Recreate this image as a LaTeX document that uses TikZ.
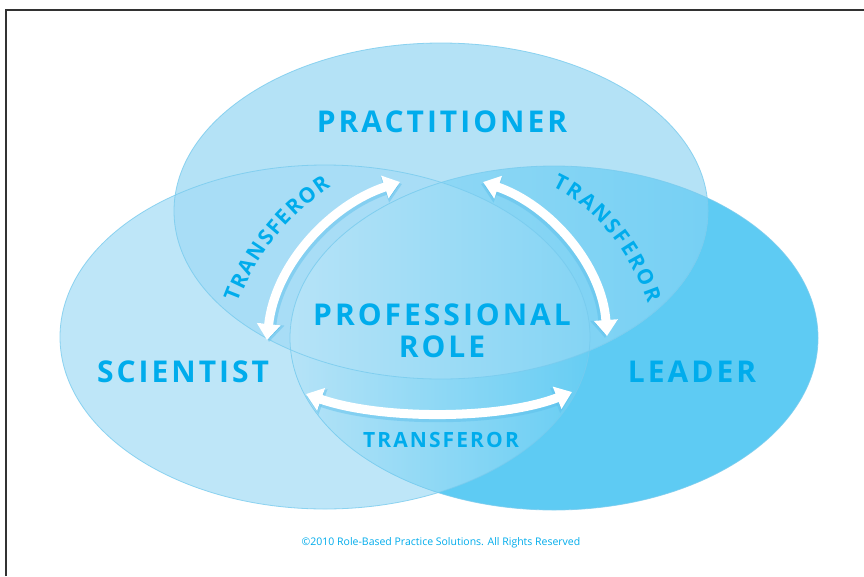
\documentclass[tikz,border=0pt]{standalone}
\usepackage{fontspec}
\setmainfont{Open Sans}[BoldFeatures={LetterSpace=10}]
\usetikzlibrary{arrows.meta,decorations.text}
\definecolor{tblue}{RGB}{0,172,236}
\definecolor{cL}{RGB}{190,230,248}
\definecolor{cT}{RGB}{180,226,246}
\definecolor{cR}{RGB}{94,203,243}
\definecolor{cLT}{RGB}{168,221,246}
\definecolor{cTRa}{RGB}{155,219,245}
\definecolor{cTRb}{RGB}{118,208,244}
\definecolor{cLRa}{RGB}{182,227,247}
\definecolor{cLRb}{RGB}{102,205,243}
\definecolor{cCa}{RGB}{182,227,247}
\definecolor{cCb}{RGB}{132,212,244}
\definecolor{eline}{RGB}{120,203,238}
\definecolor{ashade}{RGB}{90,190,235}
\definecolor{framec}{RGB}{50,50,50}
\begin{document}
\begin{tikzpicture}[x=1pt,y=-1pt,
  setshape/.style={draw=eline, line width=0.8pt, draw opacity=0.8},
  lbl/.style={text=tblue, font=\fontsize{30}{32}\selectfont\bfseries, inner sep=0pt},
  tlbl/.style={text=tblue, font=\fontsize{21}{21}\selectfont\bfseries, inner sep=0pt},
  arrowshade/.style={draw=ashade, draw opacity=0.45, line width=11pt,
    {Triangle[width=26pt,length=18pt]}-{Triangle[width=26pt,length=18pt]}},
  arrowbody/.style={draw=white, line width=9pt,
    {Triangle[width=23pt,length=16pt]}-{Triangle[width=23pt,length=16pt]}},
  curvetext/.style={decorate, decoration={text along path, text align=fit to path,
    text={|\fontsize{21}{21}\selectfont\bfseries\color{tblue}|TRANSFEROR}}}
]
\useasboundingbox (0,0) rectangle (864,576);
\fill[white] (0,0) rectangle (864,576);
% frame
\draw[framec, line width=1.5pt] (6,576) -- (6,10) -- (864,10);
% single sets
\fill[cL] (325,337) ellipse [x radius=265, y radius=172];
\fill[cR] (554,338) ellipse [x radius=264, y radius=172];
\fill[cT] (441,211) ellipse [x radius=267, y radius=168];
% top & left
\begin{scope}
\clip (441,211) ellipse [x radius=267, y radius=168];
\fill[cLT] (325,337) ellipse [x radius=265, y radius=172];
\end{scope}
% top & right
\begin{scope}
\clip (441,211) ellipse [x radius=267, y radius=168];
\clip (554,338) ellipse [x radius=264, y radius=172];
\shade[left color=cTRa, right color=cTRb] (280,150) rectangle (712,400);
\end{scope}
% left & right
\begin{scope}
\clip (325,337) ellipse [x radius=265, y radius=172];
\clip (554,338) ellipse [x radius=264, y radius=172];
\shade[left color=cLRa, right color=cLRb] (288,150) rectangle (592,520);
\end{scope}
% all three
\begin{scope}
\clip (441,211) ellipse [x radius=267, y radius=168];
\clip (325,337) ellipse [x radius=265, y radius=172];
\clip (554,338) ellipse [x radius=264, y radius=172];
\shade[left color=cCa, right color=cCb] (288,160) rectangle (592,390);
\end{scope}
% outlines
\draw[setshape] (325,337) ellipse [x radius=265, y radius=172];
\draw[setshape] (441,211) ellipse [x radius=267, y radius=168];
\draw[setshape] (554,338) ellipse [x radius=264, y radius=172];
% arrow end points
\coordinate (la) at (267,340);
\coordinate (lb) at (400,182);
\coordinate (ra) at (483,182);
\coordinate (rb) at (607,336);
\coordinate (ba) at (306,394);
\coordinate (bb) at (572,392);
% arrows
\draw[arrowshade] ([xshift=2pt,yshift=-2pt]la) .. controls ([xshift=2pt,yshift=-2pt]275,265) and ([xshift=2pt,yshift=-2pt]330,205) .. ([xshift=2pt,yshift=-2pt]lb);
\draw[arrowbody] (la) .. controls (275,265) and (330,205) .. (lb);
\draw[arrowshade] ([xshift=-2pt,yshift=-2pt]ra) .. controls ([xshift=-2pt,yshift=-2pt]550,205) and ([xshift=-2pt,yshift=-2pt]602,265) .. ([xshift=-2pt,yshift=-2pt]rb);
\draw[arrowbody] (ra) .. controls (550,205) and (602,265) .. (rb);
\draw[arrowshade] ([yshift=-2pt]ba) .. controls ([yshift=-2pt]380,420) and ([yshift=-2pt]500,420) .. ([yshift=-2pt]bb);
\draw[arrowbody] (ba) .. controls (380,420) and (500,420) .. (bb);
% curved labels
\path[curvetext] (238,303) .. controls (255,256) and (290,214) .. (331,187);
\path[curvetext] (552,187) .. controls (594,206) and (630,250) .. (648,303);
% labels
\node[lbl] (prac) at (442,122) {PRACTITIONER};
\node[lbl] (sci) at (183,372) {SCIENTIST};
\node[lbl] (lead) at (692,372) {LEADER};
\node[lbl, align=center] (prof) at (442,331) {PROFESSIONAL\\ROLE};
\node[tlbl] (tbot) at (441,440) {TRANSFEROR};
\node[text=tblue, font=\fontsize{10.5}{11}\selectfont, inner sep=0pt] (copy) at (441,543) {©2010 Role-Based Practice Solutions. All Rights Reserved};
\end{tikzpicture}
\end{document}
